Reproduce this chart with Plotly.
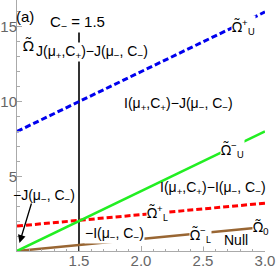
import plotly.graph_objects as go

# data
x_ends = [1.0, 3.0]
omega_U_plus = [8.0, 16.0]     # blue dashed
omega_U_minus = [0.0, 8.0]     # green solid
omega_L_plus = [1.67, 3.2]     # red dashed
omega_L_minus = [0.0, 1.6]     # brown solid
C_minus = 1.5
vline_y = [0.0, 14.7]

x_ticks = [1.5, 2.0, 2.5, 3.0]
x_ticklabels = ["1.5", "2.0", "2.5", "3.0"]
y_ticks = [5, 10, 15]
y_ticklabels = ["5", "10", "15"]

FONT = "Liberation Sans Narrow, Arial Narrow, Liberation Sans, sans-serif"
OFONT = "Noto Sans, DejaVu Sans, sans-serif"
T = "Ω\u0303"

fig = go.Figure()
fig.add_trace(go.Scatter(x=[C_minus, C_minus], y=vline_y, mode="lines",
                         line=dict(color="#333333", width=2)))
fig.add_trace(go.Scatter(x=x_ends, y=omega_L_minus, mode="lines",
                         line=dict(color="#996633", width=2.5)))
fig.add_trace(go.Scatter(x=x_ends, y=omega_L_plus, mode="lines",
                         line=dict(color="#ff0000", width=3, dash="6px,3px")))
fig.add_trace(go.Scatter(x=x_ends, y=omega_U_minus, mode="lines",
                         line=dict(color="#22ee22", width=2.5)))
fig.add_trace(go.Scatter(x=x_ends, y=omega_U_plus, mode="lines",
                         line=dict(color="#0000ee", width=3, dash="6px,3px")))

def ann(text, x, y, bg=None, size=14, family=FONT):
    d = dict(text=text, x=x, y=y, xref="x", yref="y", showarrow=False,
             font=dict(family=family, size=size, color="black"),
             xanchor="center", yanchor="middle", borderpad=0)
    if bg:
        d["bgcolor"] = bg
    fig.add_annotation(**d)

ann("(a)", 1.065, 15.67, size=15)
ann(T, 1.09, 13.8, family=OFONT, size=15)
ann("C<sub>−</sub> = 1.5", 1.49, 15.27, bg="white", size=15)
ann("J(μ<sub>+</sub>,C<sub>+</sub>)−J(μ<sub>−</sub>, C<sub>−</sub>)", 1.605, 13.33, bg="white")
ann(T + "<sup>+</sup><sub>U</sub>", 2.83, 15.0, bg="white", family=OFONT)
ann("I(μ<sub>+</sub>,C<sub>+</sub>)−J(μ<sub>−</sub>, C<sub>−</sub>)", 2.30, 9.85)
ann(T + "<sup>−</sup><sub>U</sub>", 2.74, 6.76, bg="white", family=OFONT)
ann("I(μ<sub>+</sub>,C<sub>+</sub>)−I(μ<sub>−</sub>, C<sub>−</sub>)", 2.58, 4.22)
ann(T + "<sup>+</sup><sub>L</sub>", 2.13, 2.55, bg="white", family=OFONT)
ann("−I(μ<sub>−</sub>, C<sub>−</sub>)", 1.79, 1.14, bg="white")
ann(T + "<sup>−</sup><sub>L</sub>", 2.48, 1.07, bg="white", family=OFONT)
ann("Null", 2.77, 0.74)
ann(T + "<sub>0</sub>", 2.97, 1.54, bg="white", family=OFONT)
ann("−J(μ<sub>−</sub>, C<sub>−</sub>)", 1.22, 3.68)

fig.add_annotation(x=1.02, y=0.54, ax=1.12, ay=3.28, xref="x", yref="y",
                   axref="x", ayref="y", text="", showarrow=True,
                   arrowhead=2, arrowsize=1.2, arrowwidth=1.3, arrowcolor="black")

fig.update_layout(
    width=277, height=277,
    margin=dict(l=17, r=12, t=0, b=26),
    paper_bgcolor="white", plot_bgcolor="white",
    showlegend=False,
    xaxis=dict(range=[1.0, 3.0], tickvals=x_ticks, ticktext=x_ticklabels,
               automargin=False,
               showgrid=False, zeroline=False, showline=True,
               linecolor="#aaaaaa", linewidth=1,
               ticks="inside", ticklen=5, tickcolor="#aaaaaa",
               ticklabelstandoff=-4,
               minor=dict(dtick=0.1, ticks="inside", ticklen=2.5, tickcolor="#aaaaaa"),
               tickfont=dict(family=FONT, size=15, color="#666666")),
    yaxis=dict(range=[0.0, 16.8], tickvals=y_ticks, ticktext=y_ticklabels,
               automargin=False,
               showgrid=False, zeroline=False, showline=True,
               linecolor="#aaaaaa", linewidth=1,
               ticks="inside", ticklen=5, tickcolor="#aaaaaa",
               ticklabelstandoff=-4,
               minor=dict(dtick=1, ticks="inside", ticklen=2.5, tickcolor="#aaaaaa"),
               tickfont=dict(family=FONT, size=15, color="#666666")),
)

fig.write_html("out.html", config={"displayModeBar": False},
               post_script="document.body.style.margin='0';")
